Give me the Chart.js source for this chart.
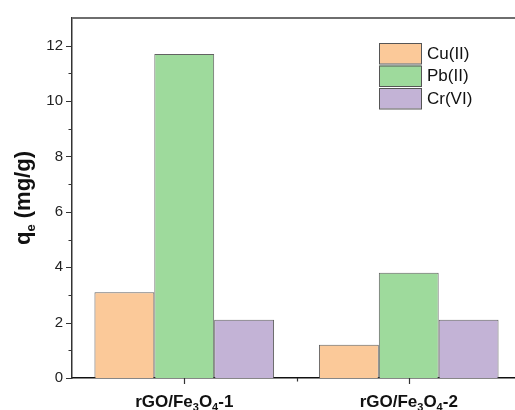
<!DOCTYPE html>
<html>
<head>
<meta charset="utf-8">
<script src="https://cdn.jsdelivr.net/npm/chart.js@4/dist/chart.umd.min.js"></script>
<style>
  html, body { margin: 0; padding: 0; background: #fff; overflow: hidden; }
  #wrap { width: 530px; height: 410px; }
</style>
</head>
<body>
<div id="wrap"><canvas id="c"></canvas></div>
<script>
// categories (main text + subscripts drawn by plugin)
const categories = ['rGO/Fe3O4-1', 'rGO/Fe3O4-2'];
const seriesNames = ['Cu(II)', 'Pb(II)', 'Cr(VI)'];
const cuValues = [3.1, 1.2];
const pbValues = [11.7, 3.8];
const crValues = [2.1, 2.1];
const yTicks = [0, 2, 4, 6, 8, 10, 12];
const yMinorTicks = [1, 3, 5, 7, 9, 11];
const yMax = 13;

const fills = ['rgb(251,201,153)', 'rgb(158,218,156)', 'rgb(195,179,214)'];
const FONT = '"Liberation Sans", Arial, sans-serif';

// draws axis decoration, subscript labels, title and legend
const decor = {
    id: 'decor',
    afterDraw(chart) {
        const ctx = chart.ctx;
        const a = chart.chartArea;
        const x = chart.scales.x, y = chart.scales.y;
        ctx.save();

        // top frame line
        ctx.strokeStyle = '#6e6e6e';
        ctx.lineWidth = 2;
        ctx.beginPath();
        ctx.moveTo(a.left, a.top);
        ctx.lineTo(a.right, a.top);
        ctx.stroke();

        // y ticks
        ctx.strokeStyle = '#333';
        ctx.lineWidth = 1.2;
        ctx.beginPath();
        yTicks.forEach(v => {
            const py = Math.round(y.getPixelForValue(v)) + 0.5;
            ctx.moveTo(a.left - 6, py); ctx.lineTo(a.left, py);
        });
        yMinorTicks.forEach(v => {
            const py = Math.round(y.getPixelForValue(v)) + 0.5;
            ctx.moveTo(a.left - 3.5, py); ctx.lineTo(a.left, py);
        });
        // x ticks
        categories.forEach((c, i) => {
            const px = Math.round(x.getPixelForValue(i)) + 0.5;
            ctx.moveTo(px, a.bottom); ctx.lineTo(px, a.bottom + 6);
        });
        const mid = Math.round(x.getPixelForValue(0.5)) + 0.5;
        ctx.moveTo(mid, a.bottom); ctx.lineTo(mid, a.bottom + 3.5);
        ctx.stroke();

        // x labels with subscripts
        ctx.fillStyle = '#111';
        ctx.textBaseline = 'alphabetic';
        categories.forEach((c, i) => {
            const suffix = c.split('-')[1];
            const parts = [
                ['rGO/Fe', 17, 0], ['3', 11, 4], ['O', 17, 0], ['4', 11, 4], ['-' + suffix, 17, 0]
            ];
            let w = 0;
            parts.forEach(p => { ctx.font = 'bold ' + p[1] + 'px ' + FONT; w += ctx.measureText(p[0]).width; });
            let cx = x.getPixelForValue(i) - w / 2;
            parts.forEach(p => {
                ctx.font = 'bold ' + p[1] + 'px ' + FONT;
                ctx.fillText(p[0], cx, 407 + p[2]);
                cx += ctx.measureText(p[0]).width;
            });
        });

        // y title q_e (mg/g)
        ctx.save();
        ctx.translate(30, (a.top + a.bottom) / 2);
        ctx.rotate(-Math.PI / 2);
        const tparts = [['q', 22, 0], ['e', 13, 5], [' (mg/g)', 22, 0]];
        let tw = 0;
        tparts.forEach(p => { ctx.font = 'bold ' + p[1] + 'px ' + FONT; tw += ctx.measureText(p[0]).width; });
        let tx = -tw / 2;
        tparts.forEach(p => {
            ctx.font = 'bold ' + p[1] + 'px ' + FONT;
            ctx.fillText(p[0], tx, p[2]);
            tx += ctx.measureText(p[0]).width;
        });
        ctx.restore();

        // legend
        ctx.font = '17px ' + FONT;
        ctx.textBaseline = 'middle';
        seriesNames.forEach((n, i) => {
            const by = 43 + i * 22.5;
            ctx.fillStyle = fills[i];
            ctx.fillRect(379, by, 42, 20.5);
            ctx.strokeStyle = '#555';
            ctx.lineWidth = 1;
            ctx.strokeRect(379.5, by + 0.5, 42, 20.5);
            ctx.fillStyle = '#111';
            ctx.fillText(n, 427, by + 11);
        });

        ctx.restore();
    }
};

new Chart(document.getElementById('c'), {
    type: 'bar',
    data: {
        labels: categories,
        datasets: [
            { label: seriesNames[0], data: cuValues, backgroundColor: fills[0] },
            { label: seriesNames[1], data: pbValues, backgroundColor: fills[1] },
            { label: seriesNames[2], data: crValues, backgroundColor: fills[2] }
        ].map(d => Object.assign(d, {
            borderColor: 'rgba(70,70,70,0.85)',
            borderWidth: 1,
            borderSkipped: 'bottom',
            categoryPercentage: 0.8,
            barPercentage: 1.0
        }))
    },
    options: {
        responsive: true,
        maintainAspectRatio: false,
        animation: false,
        devicePixelRatio: 1,
        layout: { padding: { top: 15, right: 9, left: 0, bottom: 0 } },
        plugins: {
            legend: { display: false },
            tooltip: { enabled: false }
        },
        scales: {
            x: {
                grid: { display: false, drawTicks: false },
                border: { display: true, color: '#111', width: 1.5 },
                ticks: { display: false },
                afterFit: s => { s.height = 32; }
            },
            y: {
                min: 0,
                max: yMax,
                grid: { display: false, drawTicks: false },
                border: { display: true, color: '#333', width: 1.5 },
                ticks: {
                    color: '#222',
                    padding: 9,
                    font: { family: FONT, size: 15 }
                },
                afterBuildTicks: s => { s.ticks = yTicks.map(v => ({ value: v })); },
                afterFit: s => { s.width = 72; }
            }
        }
    },
    plugins: [decor]
});
</script>
</body>
</html>
